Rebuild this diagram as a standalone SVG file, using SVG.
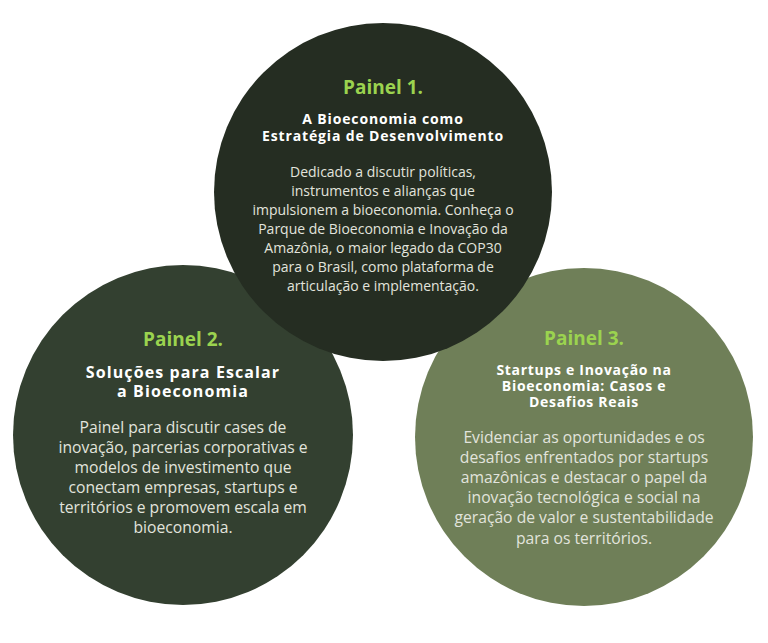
<svg xmlns="http://www.w3.org/2000/svg" width="768" height="643" viewBox="0 0 768 643">
<style>
.t{font-family:"Open Sans","Liberation Sans",sans-serif;text-anchor:middle}
.h{fill:#9bd34f;font-weight:700;font-size:19px}
.s{fill:#ffffff;font-weight:700}
.s1{font-size:14px;letter-spacing:0.85px}
.s2{font-size:16px;letter-spacing:1.1px}
.s3{font-size:14px;letter-spacing:0.7px}
.b{fill:#e2e4dd;font-size:14px}
.b2{fill:#e2e4dd;font-size:15.7px}
</style>
<rect width="768" height="643" fill="#ffffff"/>
<g id="painel2">
<circle cx="183" cy="435" r="170" fill="#334030"/>
<text class="t h" x="183" y="346">Painel 2.</text>
<text class="t s s2" x="183" y="377.5">Soluções para Escalar</text>
<text class="t s s2" x="183" y="396.5">a Bioeconomia</text>
<text class="t b2" x="183" y="432.5">Painel para discutir cases de</text>
<text class="t b2" x="183" y="453">inovação, parcerias corporativas e</text>
<text class="t b2" x="183" y="472.5">modelos de investimento que</text>
<text class="t b2" x="183" y="492.5">conectam empresas, startups e</text>
<text class="t b2" x="183" y="512.5">territórios e promovem escala em</text>
<text class="t b2" x="183" y="532.5">bioeconomia.</text>
</g>
<g id="painel3">
<circle cx="584" cy="437" r="169" fill="#6f7f58"/>
<text class="t h" x="584" y="345">Painel 3.</text>
<text class="t s s3" x="584" y="375">Startups e Inovação na</text>
<text class="t s s3" x="584" y="391">Bioeconomia: Casos e</text>
<text class="t s s3" x="584" y="407">Desafios Reais</text>
<text class="t b2" x="584" y="442.5">Evidenciar as oportunidades e os</text>
<text class="t b2" x="584" y="462.5">desafios enfrentados por startups</text>
<text class="t b2" x="584" y="482.5">amazônicas e destacar o papel da</text>
<text class="t b2" x="584" y="502.5">inovação tecnológica e social na</text>
<text class="t b2" x="584" y="522.5">geração de valor e sustentabilidade</text>
<text class="t b2" x="584" y="543.5">para os territórios.</text>
</g>
<g id="painel1">
<circle cx="383" cy="192" r="169" fill="#252d22"/>
<text class="t h" x="383" y="94">Painel 1.</text>
<text class="t s s1" x="383" y="124">A Bioeconomia como</text>
<text class="t s s1" x="383" y="141">Estratégia de Desenvolvimento</text>
<text class="t b" x="383" y="177">Dedicado a discutir políticas,</text>
<text class="t b" x="383" y="196">instrumentos e alianças que</text>
<text class="t b" x="383" y="215">impulsionem a bioeconomia. Conheça o</text>
<text class="t b" x="383" y="234">Parque de Bioeconomia e Inovação da</text>
<text class="t b" x="383" y="253">Amazônia, o maior legado da COP30</text>
<text class="t b" x="383" y="272">para o Brasil, como plataforma de</text>
<text class="t b" x="383" y="291">articulação e implementação.</text>
</g>
<g id="connectors"/>
</svg>
